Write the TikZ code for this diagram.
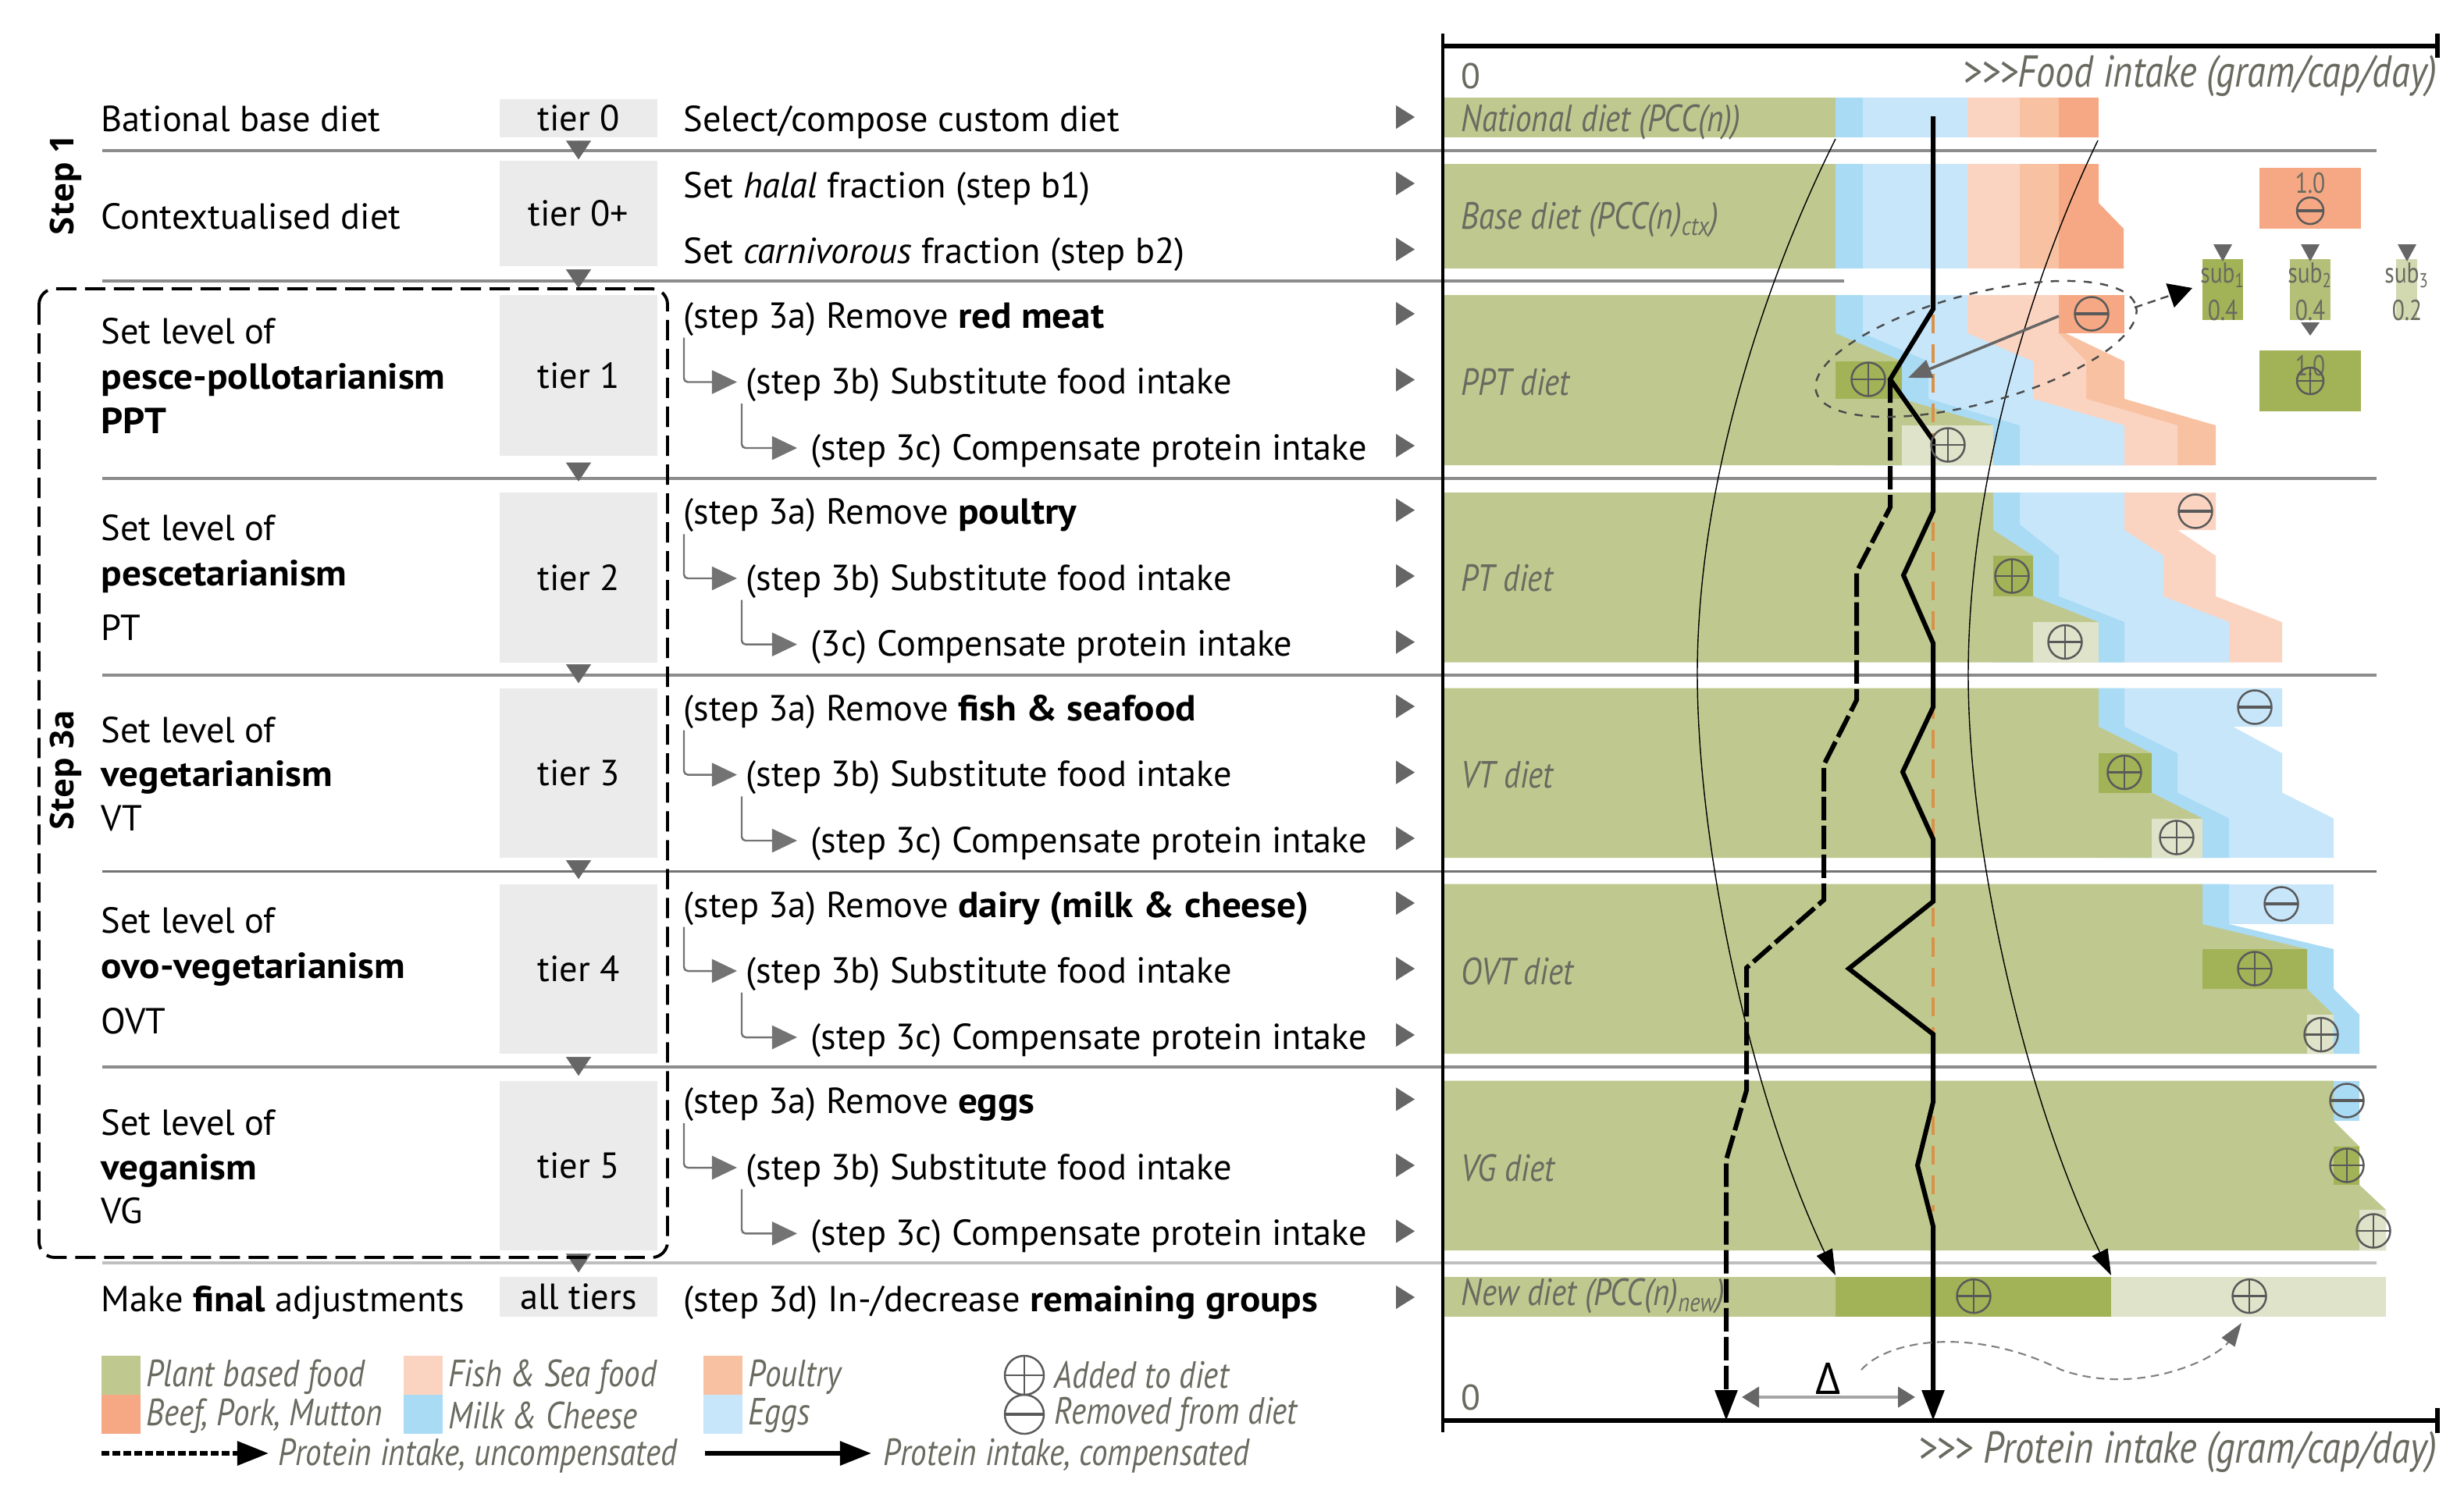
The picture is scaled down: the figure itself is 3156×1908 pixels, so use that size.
\documentclass[tikz,border=0pt]{standalone}
\usepackage{fontspec}
\setmainfont{PT Sans}[BoldFeatures={FakeStretch=1.06}]
\newfontfamily\dietfont[FakeStretch=0.845]{PT Sans Italic}
\newfontfamily\subfont[FakeStretch=0.8]{PT Sans}
\newfontfamily\stepfont{Open Sans Bold}
\newfontfamily\deltafont{Open Sans}
\usetikzlibrary{arrows.meta,positioning}
\definecolor{plant}{HTML}{BFC98F}
\definecolor{plantdark}{HTML}{A2B256}
\definecolor{plantlight}{HTML}{DFE3C9}
\definecolor{milk}{HTML}{A9DBF5}
\definecolor{eggs}{HTML}{C7E6FA}
\definecolor{fish}{HTML}{FBD4C1}
\definecolor{poultry}{HTML}{F8C2A2}
\definecolor{beef}{HTML}{F5A883}
\definecolor{tiergray}{HTML}{EBEBEB}
\definecolor{tipgray}{HTML}{666666}
\definecolor{labelgray}{HTML}{6A6A60}
\definecolor{refline}{HTML}{D9924A}
\tikzset{
  rowtext/.style={anchor=west,inner sep=0pt,text height=.36cm,text depth=.12cm,font=\fontsize{13.2}{15}\selectfont},
  lefttext/.style={rowtext},
  tierbox/.style={fill=tiergray,minimum width=2.01cm,inner sep=0pt,font=\fontsize{13.2}{15}\selectfont},
  dietlabel/.style={anchor=west,inner sep=0pt,text=labelgray,font=\dietfont\fontsize{13.8}{14}\selectfont},
  axislabel/.style={dietlabel,anchor=east,font=\dietfont\fontsize{16.3}{17}\selectfont},
  zerolabel/.style={inner sep=0pt,text=labelgray,font=\fontsize{13}{15}\selectfont},
  sublabel/.style={inner sep=0pt,align=center,text=labelgray,font=\subfont\fontsize{10.5}{10.5}\selectfont},
  steplabel/.style={rotate=90,inner sep=0pt,font=\stepfont\fontsize{12}{14}\selectfont},
  sepline/.style={draw=black!45,line width=.9pt},
  tierflow/.style={draw=tipgray,line width=.1pt,-{Triangle[length=.24cm,width=.32cm]}},
  rowtip/.style={draw=tipgray,line width=.1pt,-{Triangle[length=.24cm,width=.3cm]}},
  elbow/.style={draw=black!55,line width=.7pt,rounded corners=.05cm,-{Triangle[length=.32cm,width=.3cm]}},
  protein/.style={draw=black,line width=1.7pt,-{Triangle[length=.39cm,width=.28cm]}},
  proteindash/.style={protein,dash pattern=on .3cm off .07cm},
  guide/.style={draw=black,line width=.4pt,-{Triangle[length=.33cm,width=.22cm]}},
  icon/.style={circle,draw=black!65,line width=.7pt,minimum size=.43cm,inner sep=0pt},
  addicon/.style={icon,path picture={\draw[black!65,line width=.7pt] (path picture bounding box.west) -- (path picture bounding box.east) (path picture bounding box.north) -- (path picture bounding box.south);}},
  remicon/.style={icon,path picture={\draw[black!65,line width=.9pt] (path picture bounding box.west) -- (path picture bounding box.east);}},
}
\begin{document}
\begin{tikzpicture}[x=.01cm,y=-.01cm]
  \useasboundingbox (0,0) rectangle (3156,1908);
  \coordinate (m0) at (1788,0);
  \coordinate (m1) at (1812,0);

  % national and base diet
  \fill[plant] (1848,125) rectangle (2351,176);
  \fill[milk] (2351,125) rectangle (2386,176);
  \fill[eggs] (2386,125) rectangle (2520,176);
  \fill[fish] (2520,125) rectangle (2587,176);
  \fill[poultry] (2587,125) rectangle (2637,176);
  \fill[beef] (2637,125) rectangle (2688,176);
  \fill[beef] (2637,210) -- (2688,210) -- (2688,260) -- (2720,293) -- (2720,344) -- (2637,344) -- cycle;
  \fill[poultry] (2587,210) rectangle (2637,344);
  \fill[fish] (2520,210) rectangle (2587,344);
  \fill[eggs] (2386,210) rectangle (2520,344);
  \fill[milk] (2351,210) rectangle (2386,344);
  \fill[plant] (1848,210) rectangle (2351,344);

  % PPT
  \fill[beef] (2637,378) rectangle (2721,427);
  \fill[poultry] (2646,427) -- (2721,463) -- (2721,511) -- (2838,545) -- (2838,596) -- (2600,596) -- (2600,427) -- cycle;
  \fill[fish] (2520,378) -- (2637,378) -- (2637,427) -- (2672,463) -- (2672,511) -- (2789,545) -- (2789,596) -- (2500,596) -- cycle;
  \fill[eggs] (2386,378) -- (2520,378) -- (2520,427) -- (2604,463) -- (2604,511) -- (2721,545) -- (2721,596) -- (2386,596) -- cycle;
  \fill[milk] (2351,378) -- (2386,378) -- (2386,427) -- (2470,463) -- (2470,511) -- (2587,545) -- (2587,596) -- (2351,596) -- cycle;
  \fill[plant] (1848,378) -- (2351,378) -- (2351,427) -- (2436,463) -- (2436,511) -- (2553,545) -- (2553,596) -- (1848,596) -- cycle;
  \fill[plantdark] (2351,463) rectangle (2436,511);
  \fill[plantlight] (2436,545) rectangle (2553,596);

  % PT
  \fill[fish] (2721,631) -- (2838,631) -- (2838,679) -- (2789,679) -- (2838,712) -- (2838,764) -- (2923,797) -- (2923,848.5) -- (2721,848.5) -- cycle;
  \fill[eggs] (2587,631) -- (2721,631) -- (2721,679) -- (2771,712) -- (2771,764) -- (2855,797) -- (2855,848.5) -- (2587,848.5) -- cycle;
  \fill[milk] (2553,631) -- (2587,631) -- (2587,672) -- (2637,712) -- (2637,764) -- (2721,797) -- (2721,848.5) -- (2553,848.5) -- cycle;
  \fill[plant] (1848,631) -- (2553,631) -- (2553,679) -- (2604,712) -- (2604,764) -- (2688,797) -- (2688,848.5) -- (1848,848.5) -- cycle;
  \fill[plantdark] (2553,712) rectangle (2604,764);
  \fill[plantlight] (2604,797) rectangle (2688,848.5);

  % VT
  \fill[eggs] (2721,881.5) -- (2923,881.5) -- (2923,931) -- (2860,931) -- (2923,965) -- (2923,1015.5) -- (2989,1048.5) -- (2989,1099) -- (2721,1099) -- cycle;
  \fill[milk] (2688,881.5) -- (2721,881.5) -- (2721,931) -- (2789,965) -- (2789,1015.5) -- (2855,1048.5) -- (2855,1099) -- (2688,1099) -- cycle;
  \fill[plant] (1848,881.5) -- (2688,881.5) -- (2688,931) -- (2756,965) -- (2756,1015.5) -- (2821,1048.5) -- (2821,1099) -- (1848,1099) -- cycle;
  \fill[plantdark] (2688,965) rectangle (2756,1015.5);
  \fill[plantlight] (2756,1048.5) rectangle (2821,1099);

  % OVT
  \fill[eggs] (2855,1132.5) rectangle (2989,1184);
  \fill[milk] (2821,1132.5) -- (2855,1132.5) -- (2855,1184) -- (2989,1216) -- (2989,1267) -- (3022,1300) -- (3022,1350) -- (2821,1350) -- cycle;
  \fill[plant] (1848,1132.5) -- (2821,1132.5) -- (2821,1184) -- (2955,1216) -- (2955,1267) -- (2989,1300) -- (2989,1350) -- (1848,1350) -- cycle;
  \fill[plantdark] (2821,1216) rectangle (2955,1267);
  \fill[plantlight] (2955,1300) rectangle (2989,1350);

  % VG
  \fill[milk] (2989,1384.5) rectangle (3022,1436);
  \fill[plant] (1848,1384.5) -- (2989,1384.5) -- (2989,1436) -- (3022,1469) -- (3022,1518) -- (3056,1550) -- (3056,1602) -- (1848,1602) -- cycle;
  \fill[plantdark] (2989,1469) rectangle (3022,1518);
  \fill[plantlight] (3022,1550) rectangle (3056,1602);

  % new diet
  \fill[plant] (1848,1636) rectangle (2351,1687);
  \fill[plantdark] (2351,1636) rectangle (2704,1687);
  \fill[plantlight] (2704,1636) rectangle (3056,1687);

  % separators
  \foreach \y/\xend/\c in {193/3044/45,360/2362/45,613/3044/45,865/3044/45,1116.5/3044/55,1367/3044/45,1618/3044/25}
    \draw[sepline,draw=black!\c] (131,\y) -- (\xend,\y);

  % substitution boxes
  \fill[beef] (2894,215) rectangle (3024,293);
  \fill[plantdark] (2894,449) rectangle (3024,527);
  \fill[plantdark] (2821,332) rectangle (2873,410);
  \fill[plant!60!plantdark] (2933,332) rectangle (2985,410);
  \fill[plant!70!white] (3069,332) rectangle (3096,410);

  % tiers
  \node[tierbox,minimum height=.49cm] (t0) at (741,151.5) {tier 0};
  \node[tierbox,minimum height=1.35cm] (t0p) at (741,273.5) {tier 0+};
  \node[tierbox,minimum height=2.06cm] (t1) at (741,481) {tier 1};
  \node[tierbox,minimum height=2.17cm] (t2) at (741,740) {tier 2};
  \node[tierbox,minimum height=2.17cm] (t3) at (741,990.5) {tier 3};
  \node[tierbox,minimum height=2.17cm] (t4) at (741,1241.5) {tier 4};
  \node[tierbox,minimum height=2.17cm] (t5) at (741,1493.5) {tier 5};
  \node[tierbox,minimum height=.51cm] (t6) at (741,1661.5) {all tiers};
  \foreach \a/\b/\s/\e in {t0/t0p/.05/.01,t0p/t1/.07/.08,t1/t2/.09/.14,t2/t3/.03/.06,t3/t4/.04/.06,t4/t5/.05/.06,t5/t6/.05/.05}
    \draw[tierflow,shorten <=\s cm,shorten >=\e cm] (\a.south) -- (\b.north);

  % left column
  \node[lefttext] (l0) at (129,156) {Bational base diet};
  \node[lefttext] (l1) at (129,281) {Contextualised diet};
  \foreach \n/\y/\txt in {a/428/Set level of,b/486.5/\textbf{pesce-pollotarianism},c/543/\textbf{PPT},
    d/680/Set level of,e/738/\textbf{pescetarianism},f/808.5/PT,
    g/939/Set level of,h/995.6/\textbf{vegetarianism},i/1052/VT,
    j/1183/Set level of,k/1241/\textbf{ovo-vegetarianism},m/1312/OVT,
    n/1442.6/Set level of,o/1499/\textbf{veganism},p/1555/VG}
    \node[lefttext] (l\n) at (129,\y) {\txt};
  \node[lefttext] (l2) at (129,1668) {Make \textbf{final} adjustments};
  \node[steplabel] (s1) at (84,237) {Step 1};
  \node[steplabel] (s3) at (84,987) {Step 3a};
  \draw[black,line width=1.1pt,dash pattern=on .26cm off .11cm,rounded corners=.2cm] (50,370) rectangle (855,1611);

  % middle column
  \foreach \i/\x/\y/\txt in {0/875/156/{Select/compose custom diet},
    1/875/241/{Set \textit{halal} fraction (step b1)},
    2/875/325.5/{Set \textit{carnivorous} fraction (step b2)},
    3/875/408/{(step 3a) Remove \textbf{red meat}},
    4/955/492.5/{(step 3b) Substitute food intake},
    5/1038/577/{(step 3c) Compensate protein intake},
    6/875/659.6/{(step 3a) Remove \textbf{poultry}},
    7/955/744/{(step 3b) Substitute food intake},
    8/1038/828.6/{(3c) Compensate protein intake},
    9/875/911/{(step 3a) Remove \textbf{fish \& seafood}},
    10/955/995.6/{(step 3b) Substitute food intake},
    11/1038/1080/{(step 3c) Compensate protein intake},
    12/875/1163/{(step 3a) Remove \textbf{dairy (milk \& cheese)}},
    13/955/1247/{(step 3b) Substitute food intake},
    14/1038/1332/{(step 3c) Compensate protein intake},
    15/875/1414.4/{(step 3a) Remove \textbf{eggs}},
    16/955/1499/{(step 3b) Substitute food intake},
    17/1038/1583.4/{(step 3c) Compensate protein intake},
    18/875/1668/{(step 3d) In-/decrease \textbf{remaining groups}}}
  {
    \node[rowtext] (r\i) at (\x,\y) {\txt};
    \draw[rowtip] ([yshift=.06cm]r\i.west -| m0) -- ([yshift=.06cm]r\i.west -| m1);
  }
  \foreach \a/\b/\c in {3/4/5,6/7/8,9/10/11,12/13/14,15/16/17}
  {
    \draw[elbow,shorten >=.11cm] ([xshift=.01cm]r\a.south west) |- ([yshift=.03cm]r\b.west);
    \draw[elbow,shorten >=.17cm] ([xshift=-.05cm]r\b.south west) |- ([yshift=.03cm]r\c.west);
  }

  % axes
  \draw[black,line width=1pt] (1848,43) -- (1848,1835);
  \draw[black,line width=1.5pt] (1848,59) -- (3122,59);
  \draw[black,line width=1.5pt] (1848,1820) -- (3122,1820);
  \draw[black,line width=1.5pt] (3122,43) -- (3122,74);
  \draw[black,line width=1.5pt] (3122,1804) -- (3122,1836);
  \node[zerolabel] (zt) at (1884,97) {0};
  \node[zerolabel] (zb) at (1884,1790) {0};
  \node[axislabel] (foodax) at (3122,97) {>{}>{}>Food intake (gram/cap/day)};
  \node[axislabel] (protax) at (3122,1860) {>{}>{}> Protein intake (gram/cap/day)};

  % diet labels
  \foreach \n/\y/\txt in {nat/157/National diet (PCC(n)),base/282/Base diet (PCC(n)\textsubscript{ctx}),
    ppt/490/PPT diet,pt/740.5/PT diet,vt/993/VT diet,ovt/1244/OVT diet,vg/1496/VG diet,new/1661/New diet (PCC(n)\textsubscript{new})}
    \node[dietlabel] (d\n) at (1871,\y) {\txt};

  % sub boxes text
  \node[sublabel] (v0) at (2959,235) {1.0};
  \node[sublabel] (v1) at (2959,469) {1.0};
  \node[sublabel] (sub1) at (2847,374) {sub\textsubscript{1}\\[3pt]0.4};
  \node[sublabel] (sub2) at (2959,374) {sub\textsubscript{2}\\[3pt]0.4};
  \node[sublabel] (sub3) at (3083,374) {sub\textsubscript{3}\\[3pt]0.2};
  \foreach \x in {2847,2959,3083}
    \fill[tipgray] (\x-12,313) -- (\x+12,313) -- (\x,335) -- cycle;
  \fill[tipgray] (2959-12,413) -- (2959+12,413) -- (2959,430) -- cycle;

  % uncompensated and compensated lines
  \draw[refline,line width=1pt,dash pattern=on .24cm off .14cm] (2476,403) -- (2476,1552);
  \draw[proteindash] (2421,486) -- (2421,650) -- (2378,733) -- (2378,897) -- (2336,980) -- (2336,1153) -- (2237,1240) -- (2237,1397) -- (2211,1486) -- (2211,1820);
  \draw[protein] (2476,149) -- (2476,396) -- (2421,486) -- (2476,564) -- (2476,655) -- (2438,737) -- (2476,824) -- (2476,906) -- (2437,989) -- (2476,1075) -- (2476,1155) -- (2368,1241) -- (2476,1325) -- (2476,1412) -- (2456,1493) -- (2476,1571) -- (2476,1820);
  \draw[guide] (2351,178) .. controls (2260,360) and (2174,620) .. (2174,863) .. controls (2174,1080) and (2240,1400) .. (2351,1634);
  \draw[guide] (2687,180) .. controls (2600,360) and (2521,620) .. (2521,865) .. controls (2521,1080) and (2590,1400) .. (2704,1634);

  % selection and delta
  \draw[black!70,line width=.7pt,dashed] (2531,447) ellipse [x radius=212,y radius=70,rotate=15];
  \draw[black!70,line width=.7pt,densely dashed,-{Triangle[length=.3cm,width=.32cm,black]}] (2734,394) -- (2808,369);
  \draw[tipgray,line width=1pt,-{Triangle[length=.3cm,width=.24cm]}] (2637,405) -- (2444,484);
  \draw[black!35,line width=1.2pt,{Triangle[length=.22cm,width=.26cm,tipgray]}-{Triangle[length=.22cm,width=.26cm,tipgray]}] (2231,1790) -- (2453,1790);
  \node[inner sep=0pt,font=\deltafont\fontsize{16}{17}\selectfont] (delta) at (2342,1766) {Δ};
  \draw[black!50,line width=.6pt,densely dashed,-{Triangle[length=.3cm,width=.2cm,tipgray]}] (2384,1755) .. controls (2420,1715) and (2530,1700) .. (2640,1755) .. controls (2740,1790) and (2840,1740) .. (2871,1695);

  % icons
  \foreach \n/\x/\y in {a1/2393/486,a2/2495/570,a3/2577/738,a4/2645/822.5,a5/2721/989.5,a6/2788/1073,a7/2888/1241,a8/2973/1325.6,a9/3006/1493,a10/3040/1577,a11/2528/1660.6,a12/2881/1660.6}
    \node[addicon] (\n) at (\x,\y) {};
  \foreach \n/\x/\y in {b1/2679/402,b2/2812/655,b3/2888/906,b4/2922/1158,b5/3006/1410}
    \node[remicon] (\n) at (\x,\y) {};
  \node[addicon,minimum size=.34cm] (a13) at (2959,488) {};
  \node[remicon,minimum size=.34cm] (b6) at (2959,270) {};

  % legend
  \foreach \x/\ca/\cb/\ta/\tb in {130/plant/beef/Plant based food/{Beef, Pork, Mutton},517/fish/milk/Fish \& Sea food/Milk \& Cheese,901/poultry/eggs/Poultry/Eggs}
  {
    \fill[\ca] (\x,1737) rectangle (\x+50,1787);
    \fill[\cb] (\x,1787) rectangle (\x+50,1837);
    \node[dietlabel] at (\x+57,1764) {\ta};
    \node[dietlabel] at (\x+57,1814) {\tb};
  }
  \node[addicon,minimum size=.5cm] (ladd) at (1312,1762) {};
  \node[remicon,minimum size=.5cm] (lrem) at (1312,1812) {};
  \node[dietlabel,right=.12cm of ladd] (tadd) {Added to diet};
  \node[dietlabel,right=.12cm of lrem] (trem) {Removed from diet};
  \coordinate (p0) at (130,1862);
  \coordinate (p1) at (344,1862);
  \coordinate (p2) at (903,1862);
  \coordinate (p3) at (1116,1862);
  \draw[proteindash,dash pattern=on .1cm off .04cm,-{Triangle[length=.4cm,width=.3cm]}] (p0) -- (p1);
  \draw[protein,-{Triangle[length=.4cm,width=.3cm]}] (p2) -- (p3);
  \node[dietlabel,right=.12cm of p1,yshift=-.03cm] (tp0) {Protein intake, uncompensated};
  \node[dietlabel,right=.15cm of p3,yshift=-.03cm] (tp1) {Protein intake, compensated};
\end{tikzpicture}
\end{document}
